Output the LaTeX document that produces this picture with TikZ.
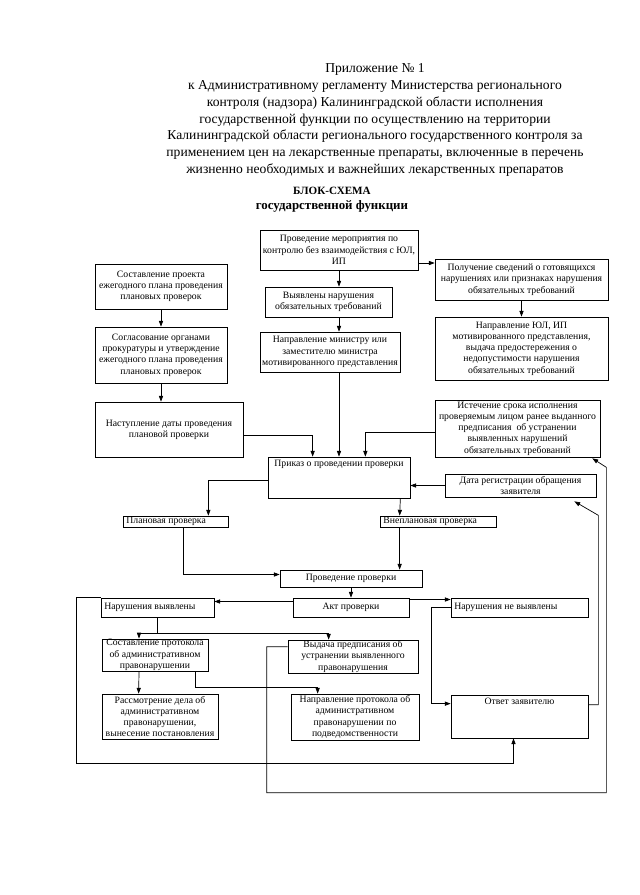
\documentclass[tikz,border=0pt]{standalone}
\usepackage{fontspec}
\setmainfont{Liberation Serif}
\usetikzlibrary{arrows.meta,calc}

\tikzset{
  blk/.style={draw,line width=0.6pt,inner sep=0.5pt,align=center,font=\fontsize{8.3}{9.6}\selectfont},
  lbl/.style={align=center,inner sep=3pt,font=\fontsize{8.3}{9.6}\selectfont},
  arr/.style={line width=0.6pt,-{Triangle[length=5pt,width=3.6pt]}},
  ln/.style={line width=0.6pt}
}

\newcommand\flowbox[6]{%
  \node[blk,minimum width={(#4-#2)*0.3mm},minimum height={(#5-#3)*0.3mm}]
    (#1) at ({(#2+#4)/2},{(#3+#5)/2}) {#6};}
\newcommand\flowboxat[7]{%
  \node[blk,minimum width={(#5-#3)*0.3mm},minimum height={(#6-#4)*0.3mm},
    label={[lbl,anchor=#1]#1:{#7}}] (#2) at ({(#3+#5)/2},{(#4+#6)/2}) {};}

\begin{document}
\begin{tikzpicture}[x=0.3mm,y=-0.3mm]
  \useasboundingbox (0,0) rectangle (640,895);

  \node[align=center,font=\fontsize{11.6}{14.4}\selectfont] (hdr) at (375,120)
    {Приложение № 1\\к Административному регламенту Министерства регионального\\
     контроля (надзора) Калининградской области исполнения\\
     государственной функции по осуществлению на территории\\
     Калининградской области регионального государственного контроля за\\
     применением цен на лекарственные препараты, включенные в перечень\\
     жизненно необходимых и важнейших лекарственных препаратов};
  \node[align=center,font=\bfseries\fontsize{11}{13}\selectfont] (ttl) at (332,200)
    {{\fontsize{9.5}{13}\selectfont БЛОК-СХЕМА}\\государственной функции};

  \flowbox{pm}{260}{230}{418}{270}{Проведение мероприятия по\\контролю без взаимодействия с ЮЛ,\\ИП}
  \flowbox{sp}{95}{264}{227}{309}{Составление проекта\\ежегодного плана проведения\\плановых проверок}
  \flowbox{vn}{265}{287}{392}{317}{Выявлены нарушения\\обязательных требований}
  \flowbox{pg}{435}{259}{608}{300}{Получение сведений о готовящихся\\нарушениях или признаках нарушения\\обязательных требований}
  \flowbox{nm}{260}{332}{400}{372}{Направление министру или\\заместителю министра\\мотивированного представления}
  \flowbox{ny}{435}{317}{608}{380}{Направление ЮЛ, ИП\\мотивированного представления,\\выдача предостережения о\\недопустимости нарушения\\обязательных требований}
  \flowbox{sg}{95}{327}{227}{383}{Согласование органами\\прокуратуры и утверждение\\ежегодного плана проведения\\плановых проверок}
  \flowbox{nd}{95}{402}{243}{457}{Наступление даты проведения\\плановой проверки}
  \flowbox{ie}{435}{400}{600}{457}{Истечение срока исполнения\\проверяемым лицом ранее выданного\\предписания\ \ об устранении\\выявленных нарушений\\обязательных требований}
  \flowboxat{north}{pk}{268}{457}{410}{498}{Приказ о проведении проверки}
  \flowbox{dr}{445}{474}{596}{497}{Дата регистрации обращения\\заявителя}
  \flowboxat{west}{pl}{123}{516}{228}{527}{Плановая проверка}
  \flowboxat{west}{vp}{380}{516}{496}{527}{Внеплановая проверка}
  \flowbox{pp}{280}{570}{422}{587}{Проведение проверки}
  \flowbox{ak}{293}{598}{409}{617}{Акт проверки}
  \flowboxat{west}{nv}{101}{598}{214}{617}{Нарушения выявлены}
  \flowboxat{west}{nn}{451}{598}{588}{617}{Нарушения не выявлены}
  \flowbox{sx}{102}{639}{208}{671}{Составление протокола\\об административном\\правонарушении}
  \flowbox{vd}{288}{640}{418}{673}{Выдача предписания об\\устранении выявленного\\правонарушения}
  \flowbox{rs}{102}{694}{218}{739}{Рассмотрение дела об\\административном\\правонарушении,\\вынесение постановления}
  \flowbox{np}{291}{694}{419}{740}{Направление протокола об\\административном\\правонарушении по\\подведомственности}
  \flowboxat{north}{ot}{451}{695}{588}{738}{Ответ заявителю}

  \draw[arr] (pm.south) -- (pm.south |- vn.north);
  \draw[arr] (pm.south |- vn.south) -- (pm.south |- nm.north);
  \draw[arr] (pm.south |- nm.south) -- (pm.south |- pk.north);
  \draw[arr] ($(pm.east)+(0,13)$) -- ($(pm.east -| pg.west)+(0,13)$);
  \draw[arr] (pg.south) -- (ny.north);
  \draw[arr] (sp.south) -- (sp.south |- sg.north);
  \draw[arr] (sg.south) -- (sg.south |- nd.north);
  \draw[arr] ($(nd.east)+(0,6)$) -| ($(pk.north west)+(45,0)$);
  \draw[arr] ($(ie.west)+(0,4)$) -| ($(pk.north east)+(-45,0)$);
  \draw[arr] (dr.west) -- (dr.west -| pk.east);
  \draw[arr] ($(pk.west)+(0,3)$) -| ($(pl.north east)+(-20,0)$);
  \draw[arr] ($(pk.south east)+(-10,0)$) -- ($(vp.north west)+(20,0)$);
  \draw[arr] ($(pl.south)+(8,0)$) |- ($(pp.west)+(0,-4)$);
  \draw[arr] ($(vp.south west)+(20,0)$) -- ($(pp.north west)+(120,0)$);
  \draw[arr] (pp.south) -- (ak.north);
  \draw[arr] ($(ak.west)+(0,-6)$) -- ($(nv.east)+(0,-6)$);
  \draw[arr] ($(ak.east)+(0,-8)$) -- ($(nn.west)+(0,-8)$);

  \draw[ln] (nv.south) -- ++(0,16) coordinate (brk);
  \draw[arr] (brk) -| ($(sx.north)+(-16,0)$);
  \draw[arr] (brk) -| ($(vd.north west)+(41,0)$);
  \draw[arr] ($(sx.south)+(-16,0)$) -- ($(rs.north west)+(37,0)$);
  \draw[arr] ($(sx.south east)+(-13,0)$) -- ++(0,16) -| ($(np.north west)+(27,0)$);

  \draw[arr] (nv.north west) -- ++(-24,0) -- ++(0,166) -| ($(ot.south)+(-6,0)$);
  \draw[arr] ($(vd.north west)+(0,7)$) -- ++(-21,0) -- ++(0,146)
    -| ($(ie.south east)+(6,10)$) -- ($(ie.south east)+(-8,1)$);
  \draw[arr] ($(ot.north east)+(0,10)$) -| ($(dr.south east)+(2,18)$) -- ($(dr.south east)+(-22,4)$);
  \draw[arr] (nn.west) -- ++(-19,0) |- ($(ot.north west)+(0,9)$);
\end{tikzpicture}
\end{document}
